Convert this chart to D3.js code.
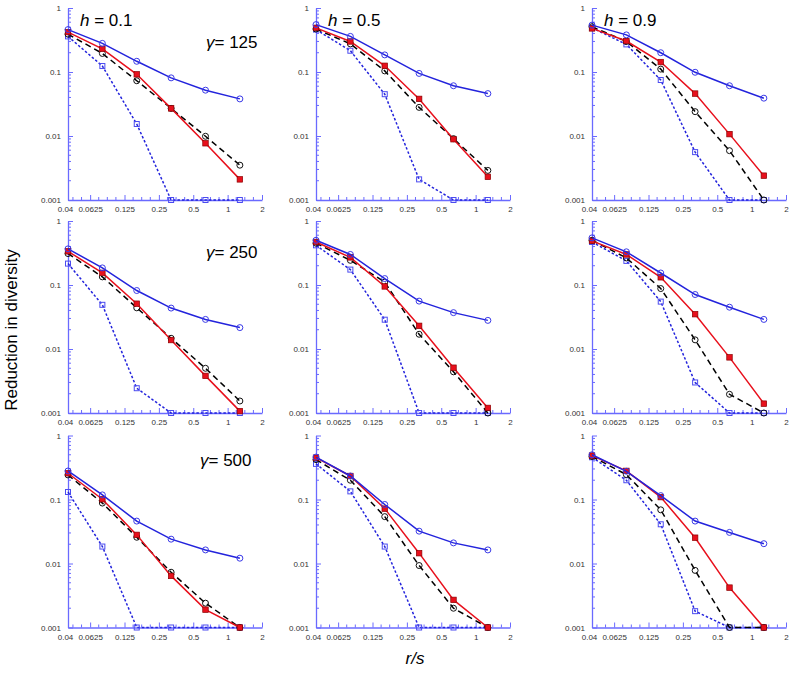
<!DOCTYPE html>
<html>
<head>
<meta charset="utf-8">
<script src="https://cdn.jsdelivr.net/npm/d3@7"></script>
<style>
  html, body { margin: 0; padding: 0; background: #fff; }
  svg { display: block; }
</style>
</head>
<body>
<svg id="chart" width="791" height="674"></svg>
<script>
// ---------- data ----------
const xValues = [0.04, 0.08, 0.16, 0.32, 0.64, 1.28];
const xTickLabels = ["0.04", "0.0625", "0.125", "0.25", "0.5", "1", "2"];
const xTickValues = [0.04, 0.0625, 0.125, 0.25, 0.5, 1, 2];
const yTickLabels = ["0.001", "0.01", "0.1", "1"];
const yTickValues = [0.001, 0.01, 0.1, 1];
const hLabels = ["0.1", "0.5", "0.9"];        // columns
const gammaLabels = ["125", "250", "500"];    // rows

// [row][col] -> values at xValues
const blueSolid = [
  [[0.46, 0.28, 0.147, 0.081, 0.052, 0.038], [0.55, 0.36, 0.185, 0.095, 0.061, 0.046], [0.54, 0.38, 0.20, 0.099, 0.061, 0.039]],
  [[0.367, 0.185, 0.082, 0.0436, 0.029, 0.0216], [0.50, 0.30, 0.126, 0.056, 0.037, 0.028], [0.545, 0.33, 0.154, 0.071, 0.045, 0.029]],
  [[0.279, 0.118, 0.046, 0.024, 0.0163, 0.0121], [0.46, 0.233, 0.0836, 0.032, 0.021, 0.0163], [0.50, 0.276, 0.115, 0.046, 0.0306, 0.0204]]
];
const redSolid = [
  [[0.42, 0.23, 0.092, 0.027, 0.0077, 0.0021], [0.49, 0.30, 0.125, 0.038, 0.0089, 0.0023], [0.48, 0.305, 0.143, 0.046, 0.0107, 0.0024]],
  [[0.336, 0.155, 0.051, 0.0138, 0.0038, 0.00107], [0.47, 0.27, 0.095, 0.023, 0.0051, 0.0012], [0.49, 0.30, 0.132, 0.035, 0.0074, 0.0014]],
  [[0.257, 0.101, 0.028, 0.0064, 0.0019, 0.001], [0.45, 0.233, 0.072, 0.0145, 0.0027, 0.001], [0.485, 0.28, 0.109, 0.0253, 0.0042, 0.001]]
];
const blackDashed = [
  [[0.39, 0.195, 0.073, 0.027, 0.0099, 0.0035], [0.47, 0.275, 0.104, 0.028, 0.0091, 0.0029], [0.51, 0.30, 0.111, 0.024, 0.0059, 0.001]],
  [[0.31, 0.134, 0.044, 0.0147, 0.005, 0.00154], [0.45, 0.243, 0.111, 0.017, 0.0044, 0.001], [0.50, 0.265, 0.088, 0.0139, 0.00196, 0.001]],
  [[0.242, 0.088, 0.0257, 0.0073, 0.0024, 0.001], [0.42, 0.20, 0.054, 0.0093, 0.002, 0.001], [0.47, 0.245, 0.069, 0.0078, 0.001, 0.001]]
];
const blueDotted = [
  [[0.36, 0.124, 0.0154, 0.001, 0.001, 0.001], [0.46, 0.215, 0.045, 0.0021, 0.001, 0.001], [0.49, 0.27, 0.075, 0.0056, 0.001, 0.001]],
  [[0.216, 0.049, 0.00244, 0.001, 0.001, 0.001], [0.417, 0.174, 0.0287, 0.001, 0.001, 0.001], [0.47, 0.238, 0.055, 0.003, 0.001, 0.001]],
  [[0.131, 0.0184, 0.001, 0.001, 0.001, 0.001], [0.36, 0.134, 0.0184, 0.001, 0.001, 0.001], [0.457, 0.20, 0.041, 0.0018, 0.001, 0.001]]
];

// ---------- layout ----------
const colX = [68, 316, 592];
const rowY = [200, 413, 627.5];
const panelW = 194, panelH = 192;
const axisColor = "#6a6aff";
const blue = "#2323dc", red = "#e8101c";
const font = "Liberation Sans, Arial, sans-serif";

const svg = d3.select("#chart");

function drawPanel(r, c) {
  const x0 = colX[c], yb = rowY[r];
  const x = d3.scaleLog().domain([0.04, 2]).range([x0, x0 + panelW]);
  const y = d3.scaleLog().domain([0.001, 1]).range([yb, yb - panelH]);
  const g = svg.append("g");

  // x axis
  const xAxis = d3.axisBottom(x).tickValues(xTickValues)
    .tickFormat((d, i) => xTickLabels[i]).tickSizeInner(-5).tickSizeOuter(0).tickPadding(8);
  const gx = g.append("g").attr("transform", `translate(0,${yb})`).call(xAxis);
  const xMinor = [];
  for (let k = -5; k <= 1; k++) {
    for (let m = 1; m < 4; m++) {
      const v = Math.pow(2, k + m / 4);
      if (v > 0.04 && v < 2) xMinor.push(v);
    }
  }
  g.selectAll(null).data(xMinor).enter().append("line")
    .attr("x1", d => x(d)).attr("x2", d => x(d))
    .attr("y1", yb).attr("y2", yb - 3).attr("stroke", axisColor).attr("stroke-width", 1);

  // y axis
  const yAxis = d3.axisLeft(y).tickValues(yTickValues)
    .tickFormat((d, i) => yTickLabels[i]).tickSizeInner(-5).tickSizeOuter(0).tickPadding(7);
  const gy = g.append("g").attr("transform", `translate(${x0},0)`).call(yAxis);
  const yMinor = [];
  for (let e = -3; e < 0; e++) for (let m = 2; m <= 9; m++) yMinor.push(m * Math.pow(10, e));
  g.selectAll(null).data(yMinor).enter().append("line")
    .attr("x1", x0).attr("x2", x0 + 3)
    .attr("y1", d => y(d)).attr("y2", d => y(d)).attr("stroke", axisColor).attr("stroke-width", 1);

  [gx, gy].forEach(ax => {
    ax.select(".domain").attr("stroke", axisColor).attr("stroke-width", 1.3);
    ax.selectAll(".tick line").attr("stroke", axisColor);
    ax.selectAll(".tick text").attr("fill", "#333").style("font-family", font).style("font-size", "8px");
  });
  gx.selectAll(".tick text").attr("dy", "0.5em").attr("dx", (d, i) => i === 0 ? -3 : 0);

  const line = d3.line().x((d, i) => x(xValues[i])).y(d => y(d));

  // blue dotted, open squares
  const bd = blueDotted[r][c];
  g.append("path").attr("d", line(bd)).attr("fill", "none").attr("stroke", blue)
    .attr("stroke-width", 1.5).attr("stroke-dasharray", "2.5,2");
  g.selectAll(null).data(bd).enter().append("rect")
    .attr("x", (d, i) => x(xValues[i]) - 2.5).attr("y", d => y(d) - 2.5)
    .attr("width", 5).attr("height", 5).attr("fill", "none").attr("stroke", "#4b4bf0").attr("stroke-width", 1);

  // black dashed, open circles
  const bk = blackDashed[r][c];
  g.append("path").attr("d", line(bk)).attr("fill", "none").attr("stroke", "#000")
    .attr("stroke-width", 1.5).attr("stroke-dasharray", "6,4");
  g.selectAll(null).data(bk).enter().append("circle")
    .attr("cx", (d, i) => x(xValues[i])).attr("cy", d => y(d)).attr("r", 3)
    .attr("fill", "none").attr("stroke", "#111").attr("stroke-width", 1);

  // red solid, filled squares
  const rd = redSolid[r][c];
  g.append("path").attr("d", line(rd)).attr("fill", "none").attr("stroke", red).attr("stroke-width", 1.5);
  g.selectAll(null).data(rd).enter().append("rect")
    .attr("x", (d, i) => x(xValues[i]) - 2.75).attr("y", d => y(d) - 2.75)
    .attr("width", 5.5).attr("height", 5.5).attr("fill", red).attr("stroke", "#8a0000").attr("stroke-width", 0.7);

  // blue solid, open circles
  const bs = blueSolid[r][c];
  g.append("path").attr("d", line(bs)).attr("fill", "none").attr("stroke", blue).attr("stroke-width", 1.5);
  g.selectAll(null).data(bs).enter().append("circle")
    .attr("cx", (d, i) => x(xValues[i])).attr("cy", d => y(d)).attr("r", 3)
    .attr("fill", "none").attr("stroke", "#3a3ae8").attr("stroke-width", 1);

  // labels
  if (r === 0) {
    const t = g.append("text").attr("x", x0 + 12).attr("y", 26)
      .style("font-family", font).style("font-size", "17px").attr("fill", "#000");
    t.append("tspan").style("font-style", "italic").text("h");
    t.append("tspan").text(" = " + hLabels[c]);
  }
  if (c === 0) {
    const gy0 = [48, 258, 466][r];
    const t = g.append("text").attr("x", [206, 206, 200][r]).attr("y", gy0)
      .style("font-family", font).style("font-size", "17px").attr("fill", "#000");
    t.append("tspan").style("font-style", "italic").text("γ");
    t.append("tspan").text("= " + gammaLabels[r]);
  }
}

for (let r = 0; r < 3; r++) for (let c = 0; c < 3; c++) drawPanel(r, c);

svg.append("text")
  .attr("transform", "translate(17,330) rotate(-90)")
  .attr("text-anchor", "middle")
  .style("font-family", font).style("font-size", "17px")
  .text("Reduction in diversity");

svg.append("text").attr("x", 415).attr("y", 664).attr("text-anchor", "middle")
  .style("font-family", font).style("font-size", "17px").style("font-style", "italic")
  .text("r/s");
</script>
</body>
</html>
